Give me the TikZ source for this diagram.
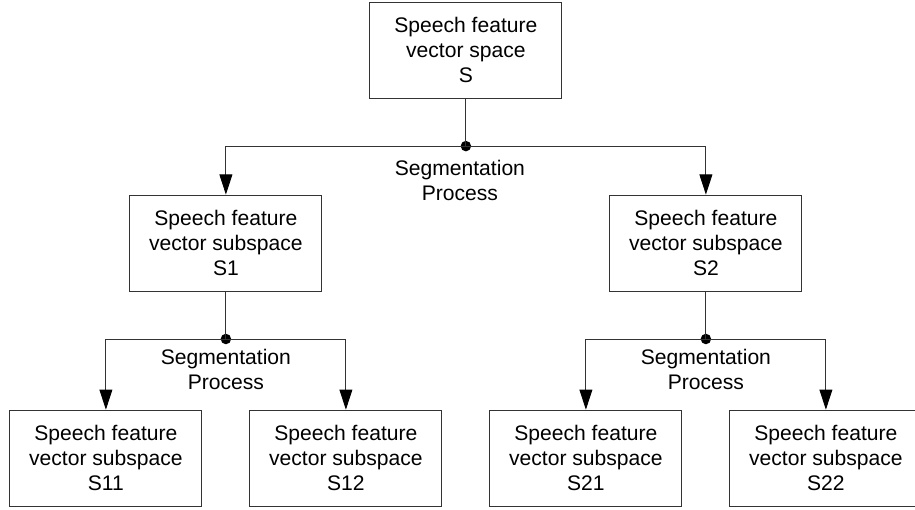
\documentclass[tikz,border=0pt]{standalone}
\usepackage{fontspec}
\setmainfont{Liberation Sans}
\usetikzlibrary{arrows.meta}

\begin{document}
\begin{tikzpicture}[box/.style={draw=black!80,rectangle,line width=0.8pt,minimum width=6.4cm,minimum height=3.2cm,inner sep=0pt,align=center,font=\fontsize{20}{23.7}\selectfont}, dot/.style={circle,fill=black,inner sep=0pt,minimum size=0.35cm}, lbl/.style={align=center,font=\fontsize{20}{23.7}\selectfont}, >={Triangle[length=0.67cm,width=0.43cm,color=black]}]
    \useasboundingbox (-0.53,-17) rectangle (29.97,0);

    \node[box] (s) at (15,-1.68) {Speech feature\\vector space\\S};
    \node[box] (s1) at (7,-8.1) {Speech feature\\vector subspace\\S1};
    \node[box] (s2) at (23,-8.1) {Speech feature\\vector subspace\\S2};
    \node[box] (s11) at (3,-15.27) {Speech feature\\vector subspace\\S11};
    \node[box] (s12) at (11,-15.27) {Speech feature\\vector subspace\\S12};
    \node[box] (s21) at (19,-15.27) {Speech feature\\vector subspace\\S21};
    \node[box] (s22) at (27,-15.27) {Speech feature\\vector subspace\\S22};

    \node[dot] (d0) at (15,-4.87) {};
    \node[dot] (d1) at (7,-11.3) {};
    \node[dot] (d2) at (23,-11.3) {};

    \node[lbl] (l0) at (14.8,-6.02) {Segmentation\\Process};
    \node[lbl] (l1) at (7,-12.3) {Segmentation\\Process};
    \node[lbl] (l2) at (23,-12.3) {Segmentation\\Process};

    \begin{scope}[draw=black!80,line width=0.8pt]
    \draw (s) -- (d0.center);
    \draw[->] (d0.center) -| (s1);
    \draw[->] (d0.center) -| (s2);
    \draw (s1) -- (d1.center);
    \draw[->] (d1.center) -| (s11);
    \draw[->] (d1.center) -| (s12);
    \draw (s2) -- (d2.center);
    \draw[->] (d2.center) -| (s21);
    \draw[->] (d2.center) -| (s22);
    \end{scope}
\end{tikzpicture}
\end{document}
